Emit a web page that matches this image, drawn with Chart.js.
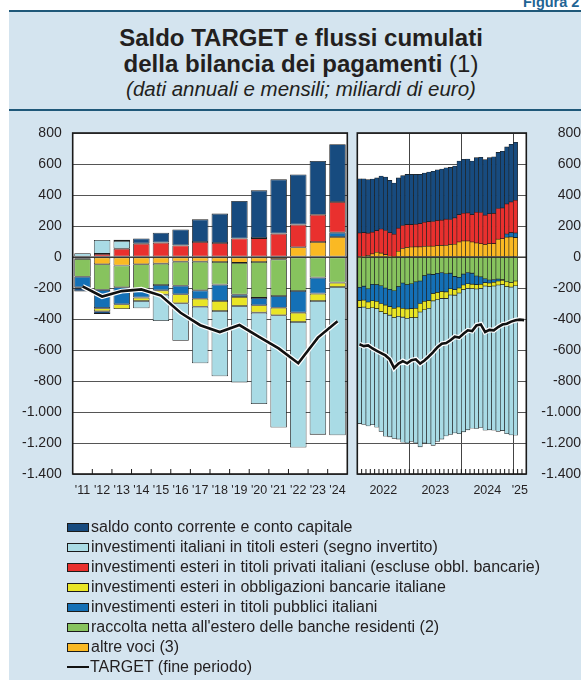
<!DOCTYPE html>
<html lang="it">
<head>
<meta charset="utf-8">
<title>Saldo TARGET e flussi cumulati della bilancia dei pagamenti</title>
<script src="https://cdn.jsdelivr.net/npm/chart.js@4.4.1/dist/chart.umd.min.js"></script>
<style>
  html, body { margin:0; padding:0; width:581px; height:680px; overflow:hidden; background:#ffffff; }
  body { position:relative; font-family:"Liberation Sans", Arial, Helvetica, sans-serif; color:#231f20; }
  #figura { position:absolute; left:523px; top:-5px; font-weight:bold; font-size:14.5px; line-height:15px; color:#1f6494; white-space:nowrap; }
  #bg { position:absolute; left:9px; top:12px; right:0; bottom:0; background:#d4e4ef; }
  .rule { position:absolute; left:9px; right:0; height:2px; background:#1f5879; }
  #title { position:absolute; left:0; width:602px; top:25px; text-align:center; font-size:24px; line-height:26px; }
  #subtitle { position:absolute; left:0; width:602px; top:77px; text-align:center; font-size:20.5px; line-height:24px; font-style:italic; }
  canvas { position:absolute; left:0; top:0; }
  #legend { position:absolute; left:67px; top:517px; font-size:16px; line-height:20px; color:#231f20; }
  .row { height:20px; display:flex; align-items:center; white-space:nowrap; }
  .sw { width:20px; height:7px; border:1px solid #1a1a1a; margin-right:2px; flex:none; }
  .ln { width:22px; height:2.5px; background:#111; margin-right:1px; flex:none; }
</style>
</head>
<body>
<div id="figura">Figura 2</div>
<div id="bg"></div>
<div class="rule" style="top:10px"></div>
<div id="title"><b>Saldo TARGET e flussi cumulati</b><br><b>della bilancia dei pagamenti</b> (1)</div>
<div id="subtitle">(dati annuali e mensili; miliardi di euro)</div>
<div class="rule" style="top:109px"></div>
<canvas id="cA" width="581" height="680"></canvas>
<canvas id="cM" width="581" height="680"></canvas>
<div id="legend"></div>

<script>
// ---------------- DATA: annual panel ----------------
const annualCats = ["'11","'12","'13","'14","'15","'16","'17","'18","'19","'20","'21","'22","'23","'24"];
const annualSaldo     = [-22, -17, 8, 33, 64, 102, 146, 190, 242, 308, 350, 324, 346, 372];
const annualInvIt     = [25, 90, 49, -47, -170, -243, -365, -422, -494, -590, -724, -810, -862, -956];
const annualPrivati   = [0, 20, 54, 86, 93, 75, 97, 90, 119, 122, 151, 146, 176, 198];
const annualObbl      = [-5, -20, -30, -22, -28, -58, -52, -64, -58, -48, -49, -60, -48, -29];
const annualPubblici  = [-68, -118, -110, -55, -34, -55, -54, -106, -15, -47, -75, -140, -103, 28];
const annualRaccolta  = [-115, -165, -140, -160, -138, -155, -185, -146, -205, -232, -237, -219, -133, -165];
const annualAltre     = [-12, -47, -55, -47, -43, -30, -30, -32, -38, -32, -15, 63, 97, 129];
const annualTarget    = [-190, -255, -220, -209, -249, -360, -440, -484, -439, -515, -590, -685, -520, -415];

// ---------------- DATA: monthly panel ----------------
const monthCats = ["2022-01","2022-02","2022-03","2022-04","2022-05","2022-06","2022-07","2022-08","2022-09","2022-10","2022-11","2022-12",
                   "2023-01","2023-02","2023-03","2023-04","2023-05","2023-06","2023-07","2023-08","2023-09","2023-10","2023-11","2023-12",
                   "2024-01","2024-02","2024-03","2024-04","2024-05","2024-06","2024-07","2024-08","2024-09","2024-10","2024-11","2024-12",
                   "2025-01","2025-02","2025-03"];
const monthYearLabels = ["2022","2023","2024","'25"];
const monthSaldo    = [350, 348, 345, 343, 340, 342, 345, 338, 330, 324, 322, 324, 324, 322, 318, 318, 320, 324, 328, 330, 332, 336, 335, 346, 348, 348, 346, 352, 356, 358, 362, 366, 362, 366, 368, 372, 374];
const monthPrivati  = [155, 152, 144, 140, 140, 155, 156, 151, 145, 149, 148, 147, 145, 146, 150, 156, 158, 159, 163, 163, 170, 162, 170, 176, 179, 181, 176, 199, 202, 190, 194, 195, 198, 198, 194, 198, 211];
const monthAltre    = [-5, 5, 10, 20, 30, 25, 15, 5, 2, 37, 55, 62, 64, 65, 65, 68, 70, 70, 72, 75, 74, 80, 82, 97, 103, 103, 97, 90, 85, 80, 85, 86, 115, 118, 128, 129, 125];
const monthPubblici = [-85, -90, -85, -106, -107, -115, -110, -112, -112, -132, -162, -157, -161, -170, -145, -165, -170, -123, -123, -122, -117, -101, -85, -70, -70, -72, -71, -56, -48, -25, -20, -18, -13, -4, 20, 28, 30];
const monthRaccolta = [-190, -188, -205, -176, -178, -185, -200, -208, -218, -190, -168, -178, -172, -160, -155, -120, -110, -112, -105, -100, -108, -104, -125, -130, -110, -100, -104, -122, -128, -140, -148, -145, -142, -146, -160, -165, -155];
const monthObbl     = [-45, -45, -42, -45, -48, -52, -55, -55, -60, -60, -58, -60, -58, -60, -55, -55, -50, -48, -46, -45, -42, -40, -36, -32, -30, -30, -28, -28, -26, -22, -22, -24, -25, -28, -30, -29, -30];
const monthInvIt    = [-750, -757, -758, -755, -765, -773, -791, -785, -780, -793, -807, -805, -799, -810, -870, -860, -875, -932, -916, -908, -888, -900, -889, -908, -918, -913, -902, -900, -898, -931, -925, -931, -945, -942, -950, -954, -965];
const monthTarget   = [-563, -575, -570, -590, -605, -620, -635, -660, -716, -688, -672, -686, -666, -660, -688, -668, -642, -614, -582, -560, -555, -537, -514, -520, -495, -473, -478, -441, -435, -484, -470, -473, -452, -436, -430, -417, -408, -404, -407];

const yTickValues = [800, 600, 400, 200, 0, -200, -400, -600, -800, -1000, -1200, -1400];

// ---------------- series description ----------------
const NAMES = {
  saldo: 'saldo conto corrente e conto capitale',
  invIt: 'investimenti italiani in titoli esteri (segno invertito)',
  privati: 'investimenti esteri in titoli privati italiani (escluse obbl. bancarie)',
  obbl: 'investimenti esteri in obbligazioni bancarie italiane',
  pubblici: 'investimenti esteri in titoli pubblici italiani',
  raccolta: "raccolta netta all'estero delle banche residenti (2)",
  altre: 'altre voci (3)',
  target: 'TARGET (fine periodo)'
};
const COLORS = {
  saldo: '#174b7f', invIt: '#a9dbe5', privati: '#e9302e', obbl: '#e9e526',
  pubblici: '#1470b6', raccolta: '#87c35e', altre: '#fab923', target: '#111111'
};
const STACK_ORDER  = ['altre', 'raccolta', 'pubblici', 'obbl', 'privati', 'invIt', 'saldo'];
const LEGEND_ORDER = ['saldo', 'invIt', 'privati', 'obbl', 'pubblici', 'raccolta', 'altre'];

const annualSeries = { saldo: annualSaldo, invIt: annualInvIt, privati: annualPrivati, obbl: annualObbl,
                       pubblici: annualPubblici, raccolta: annualRaccolta, altre: annualAltre };
const monthSeries  = { saldo: monthSaldo, invIt: monthInvIt, privati: monthPrivati, obbl: monthObbl,
                       pubblici: monthPubblici, raccolta: monthRaccolta, altre: monthAltre };

// ---------------- helpers ----------------
const FONT = '"Liberation Sans", Arial, Helvetica, sans-serif';
Chart.defaults.font.family = FONT;
const fmtIt = v => (v < 0 ? '-' : '') + Math.abs(v).toString().replace(/\B(?=(\d{3})+(?!\d))/g, '.');

const PLOT = { top: 133, bottom: 474, aLeft: 72.7, aRight: 347.3, mLeft: 357.3, mRight: 526.3 };
const XH = 30;
const CW = 581, CH = 680;

const panelPlugin = {
  id: 'panel',
  beforeDraw(chart) {
    const { ctx, chartArea: a } = chart;
    ctx.save();
    ctx.fillStyle = '#ffffff';
    ctx.fillRect(a.left, a.top, a.right - a.left, a.bottom - a.top);
    ctx.restore();
  },
  afterDatasetsDraw(chart) {
    const { ctx, chartArea: a } = chart;
    const y0 = chart.scales.y.getPixelForValue(0);
    ctx.save();
    ctx.strokeStyle = '#2a2a2a';
    ctx.lineWidth = 1;
    ctx.beginPath();
    ctx.moveTo(a.left, y0); ctx.lineTo(a.right, y0);
    ctx.stroke();
    ctx.restore();
  },
  afterDraw(chart, args, opts) {
    const { ctx, chartArea: a } = chart;
    ctx.save();
    ctx.strokeStyle = '#1a1a1a';
    ctx.lineWidth = 1;
    const xs = opts.tickXs ? opts.tickXs(chart) : [];
    ctx.beginPath();
    xs.forEach(x => { ctx.moveTo(x, a.bottom); ctx.lineTo(x, a.bottom - 5); });
    ctx.stroke();
    ctx.lineWidth = 1.6;
    ctx.strokeRect(a.left, a.top, a.right - a.left, a.bottom - a.top);
    ctx.restore();
  }
};

function barDatasets(series, mapData, bw, barPct) {
  return STACK_ORDER.map(k => ({
    type: 'bar', label: NAMES[k], data: mapData(series[k]),
    backgroundColor: COLORS[k], borderColor: '#1c1c1c', borderWidth: bw, borderSkipped: false,
    stack: 'flows', order: 2, yAxisID: 'y', categoryPercentage: 1, barPercentage: barPct
  }));
}
function lineDatasets(data) {
  return [
    { type: 'line', label: 'halo', data, borderColor: '#ffffff', borderWidth: 5, pointRadius: 0,
      tension: 0, fill: false, order: 1, yAxisID: 'yT' },
    { type: 'line', label: NAMES.target, data, borderColor: COLORS.target, borderWidth: 2.6, pointRadius: 0,
      tension: 0, fill: false, order: 0, yAxisID: 'yT' }
  ];
}
const yTickCfg = (padding) => ({
  autoSkip: false, padding, color: '#231f20', font: { family: FONT, size: 14 },
  callback: v => fmtIt(v)
});
const afterBuildY = s => { s.ticks = yTickValues.map(v => ({ value: v })); };

// ---------------- annual chart ----------------
new Chart(document.getElementById('cA'), {
  type: 'bar',
  data: {
    labels: annualCats,
    datasets: [...barDatasets(annualSeries, d => d, 0.8, 0.84), ...lineDatasets(annualTarget)]
  },
  options: {
    responsive: false, animation: false, devicePixelRatio: 1,
    layout: { padding: { left: 0, top: PLOT.top, right: CW - PLOT.aRight, bottom: CH - PLOT.bottom - XH } },
    plugins: {
      legend: { display: false }, tooltip: { enabled: false },
      panel: {
        tickXs: chart => {
          const sx = chart.scales.x, out = [];
          for (let i = 1; i < annualCats.length; i++) out.push((sx.getPixelForValue(i - 1) + sx.getPixelForValue(i)) / 2);
          return out;
        }
      }
    },
    scales: {
      x: {
        stacked: true, grid: { display: false, drawTicks: false }, border: { display: false },
        ticks: { autoSkip: false, maxRotation: 0, padding: 9, color: '#231f20', font: { family: FONT, size: 12.5 } },
        afterFit: s => { s.height = XH; }
      },
      y: {
        stacked: true, position: 'left', min: -1400, max: 800,
        afterBuildTicks: afterBuildY,
        ticks: yTickCfg(11),
        grid: { color: '#555555', lineWidth: 1, drawTicks: false }, border: { display: false },
        afterFit: s => { s.width = PLOT.aLeft; }
      },
      yT: { display: false, min: -1400, max: 800 }
    }
  },
  plugins: [panelPlugin]
});

// ---------------- monthly chart ----------------
const yearGroups = [];
monthCats.forEach((m, i) => {
  const yr = m.slice(0, 4);
  const g = yearGroups[yearGroups.length - 1];
  if (!g || g.yr !== yr) yearGroups.push({ yr, first: i, last: i }); else g.last = i;
});
const mTicks = [];
yearGroups.forEach((g, gi) => {
  if (gi > 0) mTicks.push({ value: g.first - 0.5, label: '', boundary: true });
  mTicks.push({ value: (g.first + g.last) / 2, label: monthYearLabels[gi], boundary: false });
});
const findTick = v => mTicks.find(t => Math.abs(t.value - v) < 1e-6);
const toXY = arr => arr.map((v, i) => ({ x: i, y: v }));

new Chart(document.getElementById('cM'), {
  type: 'bar',
  data: {
    datasets: [...barDatasets(monthSeries, toXY, 0.6, 1), ...lineDatasets(toXY(monthTarget))]
  },
  options: {
    responsive: false, animation: false, devicePixelRatio: 1,
    layout: { padding: { left: PLOT.mLeft, top: PLOT.top, right: 0, bottom: CH - PLOT.bottom - XH } },
    plugins: {
      legend: { display: false }, tooltip: { enabled: false },
      panel: {
        tickXs: chart => {
          const sx = chart.scales.x, out = [];
          for (let k = 0; k < monthCats.length - 1; k++) out.push(sx.getPixelForValue(k + 0.5));
          return out;
        }
      }
    },
    scales: {
      x: {
        type: 'linear', stacked: true, offset: false, bounds: 'data',
        min: -0.5, max: monthCats.length - 0.5,
        afterBuildTicks: s => { s.ticks = mTicks.map(t => ({ value: t.value })); },
        ticks: {
          autoSkip: false, maxRotation: 0, padding: 9, color: '#231f20', font: { family: FONT, size: 12.5 },
          callback: v => { const t = findTick(v); return t ? t.label : ''; }
        },
        grid: {
          offset: false, drawTicks: false, lineWidth: 1,
          color: c => { const t = c.tick ? findTick(c.tick.value) : null; return t && t.boundary ? '#444444' : 'rgba(0,0,0,0)'; }
        },
        border: { display: false },
        afterFit: s => { s.height = XH; }
      },
      y: {
        stacked: true, position: 'right', min: -1400, max: 800,
        afterBuildTicks: afterBuildY,
        ticks: Object.assign(yTickCfg(15), { crossAlign: 'far' }),
        grid: { color: '#555555', lineWidth: 1, drawTicks: false }, border: { display: false },
        afterFit: s => { s.width = CW - PLOT.mRight; }
      },
      yT: { display: false, min: -1400, max: 800 }
    }
  },
  plugins: [panelPlugin]
});

// ---------------- legend (HTML) ----------------
const legendEl = document.getElementById('legend');
LEGEND_ORDER.forEach(k => {
  const row = document.createElement('div'); row.className = 'row';
  const sw = document.createElement('span'); sw.className = 'sw'; sw.style.background = COLORS[k];
  const tx = document.createElement('span'); tx.textContent = NAMES[k];
  row.appendChild(sw); row.appendChild(tx); legendEl.appendChild(row);
});
{
  const row = document.createElement('div'); row.className = 'row';
  const ln = document.createElement('span'); ln.className = 'ln';
  const tx = document.createElement('span'); tx.textContent = NAMES.target;
  row.appendChild(ln); row.appendChild(tx); legendEl.appendChild(row);
}
</script>
</body>
</html>
